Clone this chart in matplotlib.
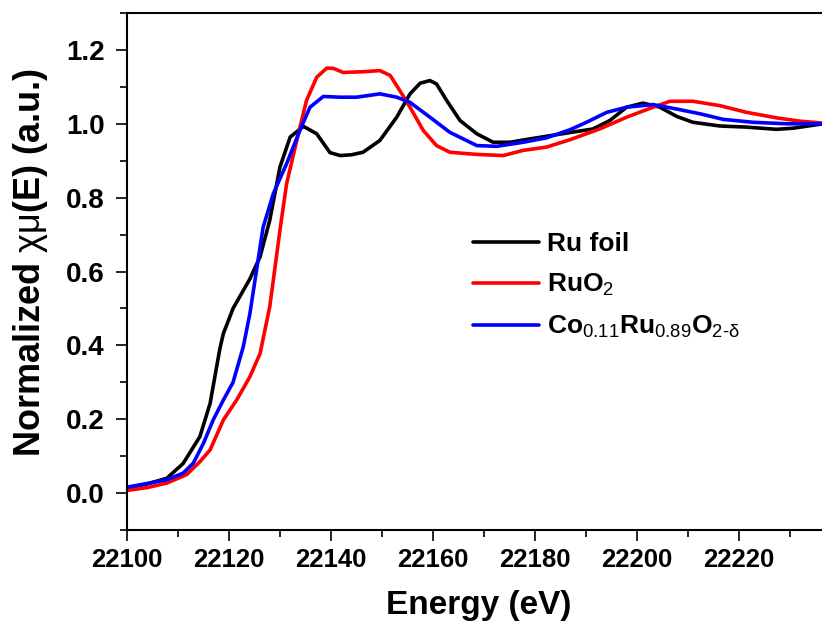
import matplotlib
matplotlib.use("Agg")
import matplotlib.pyplot as plt
from matplotlib.ticker import MultipleLocator

plt.rcParams['font.family'] = ['Liberation Sans', 'DejaVu Sans']
plt.rcParams['mathtext.fontset'] = 'custom'
plt.rcParams['mathtext.rm'] = 'Liberation Sans'
plt.rcParams['mathtext.it'] = 'Liberation Sans'
plt.rcParams['mathtext.bf'] = 'Liberation Sans:bold'

# ---- data ----
ru_foil_E = [22100, 22104, 22107.8, 22111, 22114.3, 22116.3, 22118.2, 22118.9, 22120.8, 22124.1,
             22126.1, 22128, 22130, 22132, 22134.6, 22137.2, 22139.8, 22141.8, 22144, 22146.3,
             22149.6, 22152.9, 22155.5, 22157.5, 22159.4, 22160.7, 22162.7, 22165.3, 22168.6, 22171.8,
             22175.1, 22179, 22184.9, 22191.4, 22194.7, 22198, 22201.2, 22204.5, 22207.8, 22211,
             22216.3, 22221.5, 22227.4, 22230.6, 22236.5]
ru_foil_mu = [0.013, 0.025, 0.040, 0.080, 0.153, 0.243, 0.390, 0.432, 0.500, 0.580,
              0.640, 0.739, 0.883, 0.964, 0.993, 0.973, 0.922, 0.914, 0.916, 0.923,
              0.955, 1.018, 1.081, 1.110, 1.117, 1.108, 1.063, 1.009, 0.973, 0.950,
              0.950, 0.959, 0.972, 0.986, 1.009, 1.045, 1.056, 1.045, 1.020, 1.004,
              0.994, 0.991, 0.985, 0.988, 1.000]

ruo2_E = [22100, 22104, 22107.8, 22111.7, 22114.3, 22116.3, 22118.9, 22121.5, 22124.1, 22126.1,
          22128, 22130, 22131.3, 22133.3, 22135.2, 22137.2, 22139.2, 22140.5, 22142.4, 22146.3,
          22149.6, 22151.6, 22153.5, 22155.5, 22158.1, 22160.7, 22163.3, 22168.6, 22173.8, 22177.7,
          22182.3, 22186.9, 22192.7, 22198, 22203.2, 22206.5, 22211, 22216.3, 22221.5, 22227.4,
          22232, 22236.5]
ruo2_mu = [0.007, 0.015, 0.027, 0.050, 0.085, 0.117, 0.198, 0.252, 0.315, 0.378,
           0.505, 0.712, 0.838, 0.955, 1.063, 1.126, 1.151, 1.150, 1.139, 1.141,
           1.144, 1.131, 1.090, 1.045, 0.982, 0.941, 0.923, 0.917, 0.914, 0.928,
           0.937, 0.957, 0.986, 1.018, 1.045, 1.061, 1.061, 1.049, 1.031, 1.016,
           1.007, 1.002]

co_E = [22100, 22104, 22107.8, 22111, 22113, 22115, 22116.9, 22118.9, 22120.8, 22122.8,
        22124.1, 22124.8, 22126.7, 22128.7, 22131.3, 22133.9, 22135.9, 22138.5, 22141.8, 22145,
        22149.6, 22152.9, 22155.5, 22159.4, 22163.3, 22168.6, 22172.5, 22177.7, 22182.3, 22186.9,
        22190.1, 22194.1, 22198, 22203.2, 22207.8, 22212.4, 22216.9, 22222.8, 22229.4, 22236.5]
co_mu = [0.016, 0.026, 0.036, 0.054, 0.081, 0.135, 0.198, 0.252, 0.300, 0.396,
         0.486, 0.549, 0.720, 0.811, 0.892, 0.982, 1.045, 1.074, 1.072, 1.072,
         1.081, 1.072, 1.058, 1.018, 0.977, 0.941, 0.939, 0.950, 0.962, 0.984,
         1.004, 1.031, 1.045, 1.052, 1.040, 1.027, 1.012, 1.004, 1.000, 1.000]

labels = ['Ru foil', r'RuO$_{2}$', r'Co$_{0.11}$Ru$_{0.89}$O$_{2\text{-}\delta}$']
colors = ['#000000', '#ff0000', '#0000ff']

x_ticks = [22100, 22120, 22140, 22160, 22180, 22200, 22220]
y_ticks = [0.0, 0.2, 0.4, 0.6, 0.8, 1.0, 1.2]

# ---- figure ----
fig = plt.figure(figsize=(8.22, 6.30), dpi=100)
ax = fig.add_axes([127/822, 1 - 530/630, 1 - 127/822, (530 - 13)/630])

for E, mu, lab, c in zip([ru_foil_E, ruo2_E, co_E], [ru_foil_mu, ruo2_mu, co_mu], labels, colors):
    ax.plot(E, mu, color=c, lw=2.6, label=lab, solid_capstyle='round', solid_joinstyle='round')

ax.set_xlim(22100, 22236.3)
ax.set_ylim(-0.1, 1.3)
ax.set_xticks(x_ticks)
ax.set_yticks(y_ticks)
ax.set_yticklabels([f'{v:.1f}' for v in y_ticks])
ax.xaxis.set_minor_locator(MultipleLocator(10))
ax.yaxis.set_minor_locator(MultipleLocator(0.1))
ax.tick_params(which='major', direction='out', length=8, width=1.2, top=False, right=False)
ax.tick_params(which='minor', direction='out', length=5, width=1.2, top=False, right=False)
ax.tick_params(axis='x', which='major', labelsize=18.5, pad=5)
ax.tick_params(axis='y', which='major', labelsize=20, pad=8)
for lbl in ax.get_xticklabels() + ax.get_yticklabels():
    lbl.set_fontweight('bold')
for s in ['left', 'bottom', 'top']:
    ax.spines[s].set_linewidth(1.5)
ax.spines['right'].set_visible(False)

ax.set_xlabel('Energy (eV)', fontsize=24, fontweight='bold')
ax.set_ylabel(r'Normalized $\chi\mu$(E) (a.u.)', fontsize=26, fontweight='bold')
ax.xaxis.set_label_coords((479 - 127) / 695, (530 - 590) / 517)
ax.yaxis.set_label_coords((50 - 127) / 695, (530 - 262) / 517)

leg = ax.legend(loc='upper left', bbox_to_anchor=(473/822, 1 - 232/630),
                bbox_transform=fig.transFigure, frameon=False, fontsize=19,
                handlelength=2.5, handletextpad=0.3, labelspacing=0.6,
                borderpad=0, borderaxespad=0)
for t in leg.get_texts():
    t.set_fontweight('bold')
for h in leg.get_lines():
    h.set_linewidth(2.6)

fig.savefig('out.png', dpi=100)
